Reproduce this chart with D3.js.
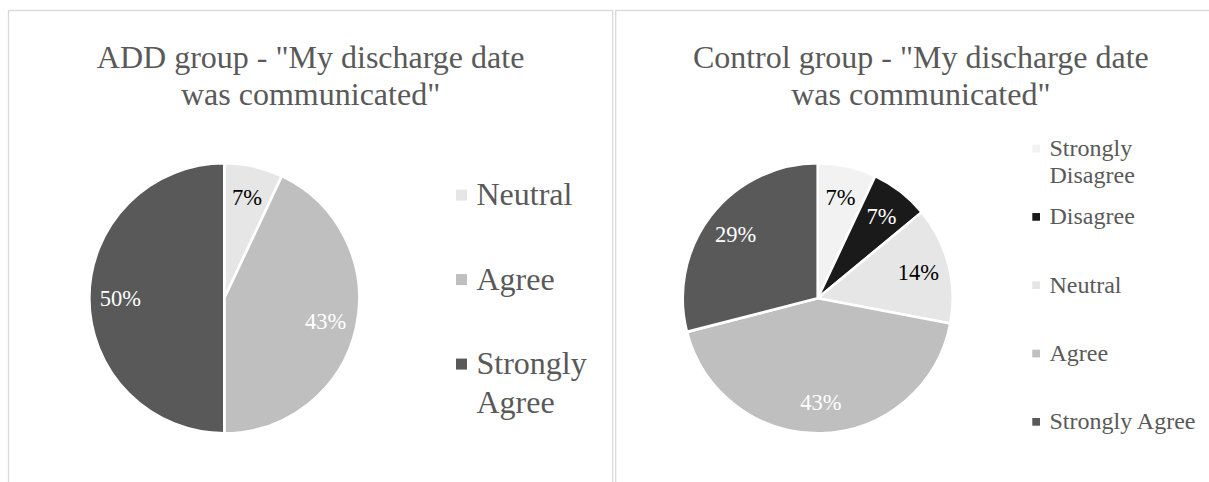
<!DOCTYPE html>
<html>
<head>
<meta charset="utf-8">
<script src="https://cdn.jsdelivr.net/npm/d3@7"></script>
<style>
  body { margin: 0; background: #fff; }
  svg { display: block; font-family: "Liberation Serif", "Times New Roman", serif; }
  svg text { font-family: "Liberation Serif", "Times New Roman", serif; }
</style>
</head>
<body>
<svg id="chart" width="1209" height="482"></svg>
<script>
// data
const addTitle = ['ADD group - "My discharge date', 'was communicated"'];
const addCategories = ["Neutral", "Agree", "Strongly Agree"];
const addValues = [7, 43, 50];

const controlTitle = ['Control group - "My discharge date', 'was communicated"'];
const controlCategories = ["Strongly Disagree", "Disagree", "Neutral", "Agree", "Strongly Agree"];
const controlValues = [7, 7, 14, 43, 29];

const allCategories = ["Strongly Disagree", "Disagree", "Neutral", "Agree", "Strongly Agree"];
const sliceColor = d3.scaleOrdinal()
                     .domain(allCategories)
                     .range(["#f2f2f2", "#1a1a1a", "#e7e6e6", "#bfbfbf", "#595959"]);

const svg = d3.select("#chart");

const panels = [
  { x0: 8.5, x1: 612.7, title: addTitle, cats: addCategories, vals: addValues,
    cx: 224.3, cy: 298.3, r: 135,
    legX: 456, legFont: 32, legLine: 39, legSq: 11, legRange: [205, 374], wrap: 140 },
  { x0: 615.7, x1: 1226, title: controlTitle, cats: controlCategories, vals: controlValues,
    cx: 817.7, cy: 298.3, r: 135,
    legX: 1032.3, legFont: 24, legLine: 26.7, legSq: 7.7, legRange: [156, 429.3], wrap: 160 }
];

panels.forEach(p => drawPanel(p));

function drawPanel(p) {
  var g = svg.append("g");

  // frame
  g.append("rect")
   .attr("x", p.x0)
   .attr("y", 10.5)
   .attr("width", p.x1 - p.x0)
   .attr("height", 520)
   .attr("fill", "none")
   .attr("stroke", "#d9d9d9")
   .attr("stroke-width", 1.3);

  // title
  var mid = (p.x0 + p.x1) / 2;
  g.append("text")
   .attr("text-anchor", "middle")
   .attr("font-size", 32)
   .attr("fill", "#595959")
   .selectAll("tspan")
   .data(p.title)
   .enter()
   .append("tspan")
   .attr("x", mid)
   .attr("y", (d, i) => 68.3 + i * 37)
   .text(d => d);

  var rows = p.cats.map((c, i) => ({ cat: c, value: p.vals[i] }));

  var pie = d3.pie().sort(null).value(d => d.value);
  var arc = d3.arc().innerRadius(0).outerRadius(p.r);
  var labelArc = d3.arc().innerRadius(p.r * 0.77).outerRadius(p.r * 0.77);

  var pieG = g.append("g")
              .attr("transform", "translate(" + p.cx + "," + p.cy + ")");

  var slices = pieG.selectAll("g.slice")
                   .data(pie(rows))
                   .enter()
                   .append("g")
                   .attr("class", "slice");

  slices.append("path")
        .attr("d", arc)
        .attr("fill", d => sliceColor(d.data.cat))
        .attr("stroke", "#fff")
        .attr("stroke-width", 2.6)
        .attr("stroke-linejoin", "round");

  slices.append("text")
        .attr("transform", d => "translate(" + labelArc.centroid(d) + ")")
        .attr("text-anchor", "middle")
        .attr("dy", "0.35em")
        .attr("font-size", 22.5)
        .attr("fill", d => d3.hsl(sliceColor(d.data.cat)).l > 0.8 ? "#000" : "#fff")
        .text(d => d.data.value + "%");

  // legend
  var legY = d3.scalePoint().domain(p.cats).range(p.legRange);

  var legend = g.append("g");
  p.cats.forEach(cat => {
    var row = legend.append("g");
    var y = legY(cat);
    row.append("rect")
       .attr("x", p.legX)
       .attr("y", y - p.legFont * 0.31 - p.legSq / 2)
       .attr("width", p.legSq)
       .attr("height", p.legSq)
       .attr("fill", sliceColor(cat));

    var txt = row.append("text")
                 .attr("font-size", p.legFont)
                 .attr("fill", "#595959");
    wrapText(txt, cat, p.legX + p.legSq + 9.5, y, p.legLine, p.wrap);
  });
}

function wrapText(txt, str, x, y, lineH, maxW) {
  var words = str.split(" ");
  var line = [];
  var n = 0;
  var tspan = txt.append("tspan").attr("x", x).attr("y", y);
  words.forEach(w => {
    line.push(w);
    tspan.text(line.join(" "));
    if (tspan.node().getComputedTextLength() > maxW && line.length > 1) {
      line.pop();
      tspan.text(line.join(" "));
      line = [w];
      n++;
      tspan = txt.append("tspan").attr("x", x).attr("y", y + n * lineH).text(w);
    }
  });
}
</script>
</body>
</html>
